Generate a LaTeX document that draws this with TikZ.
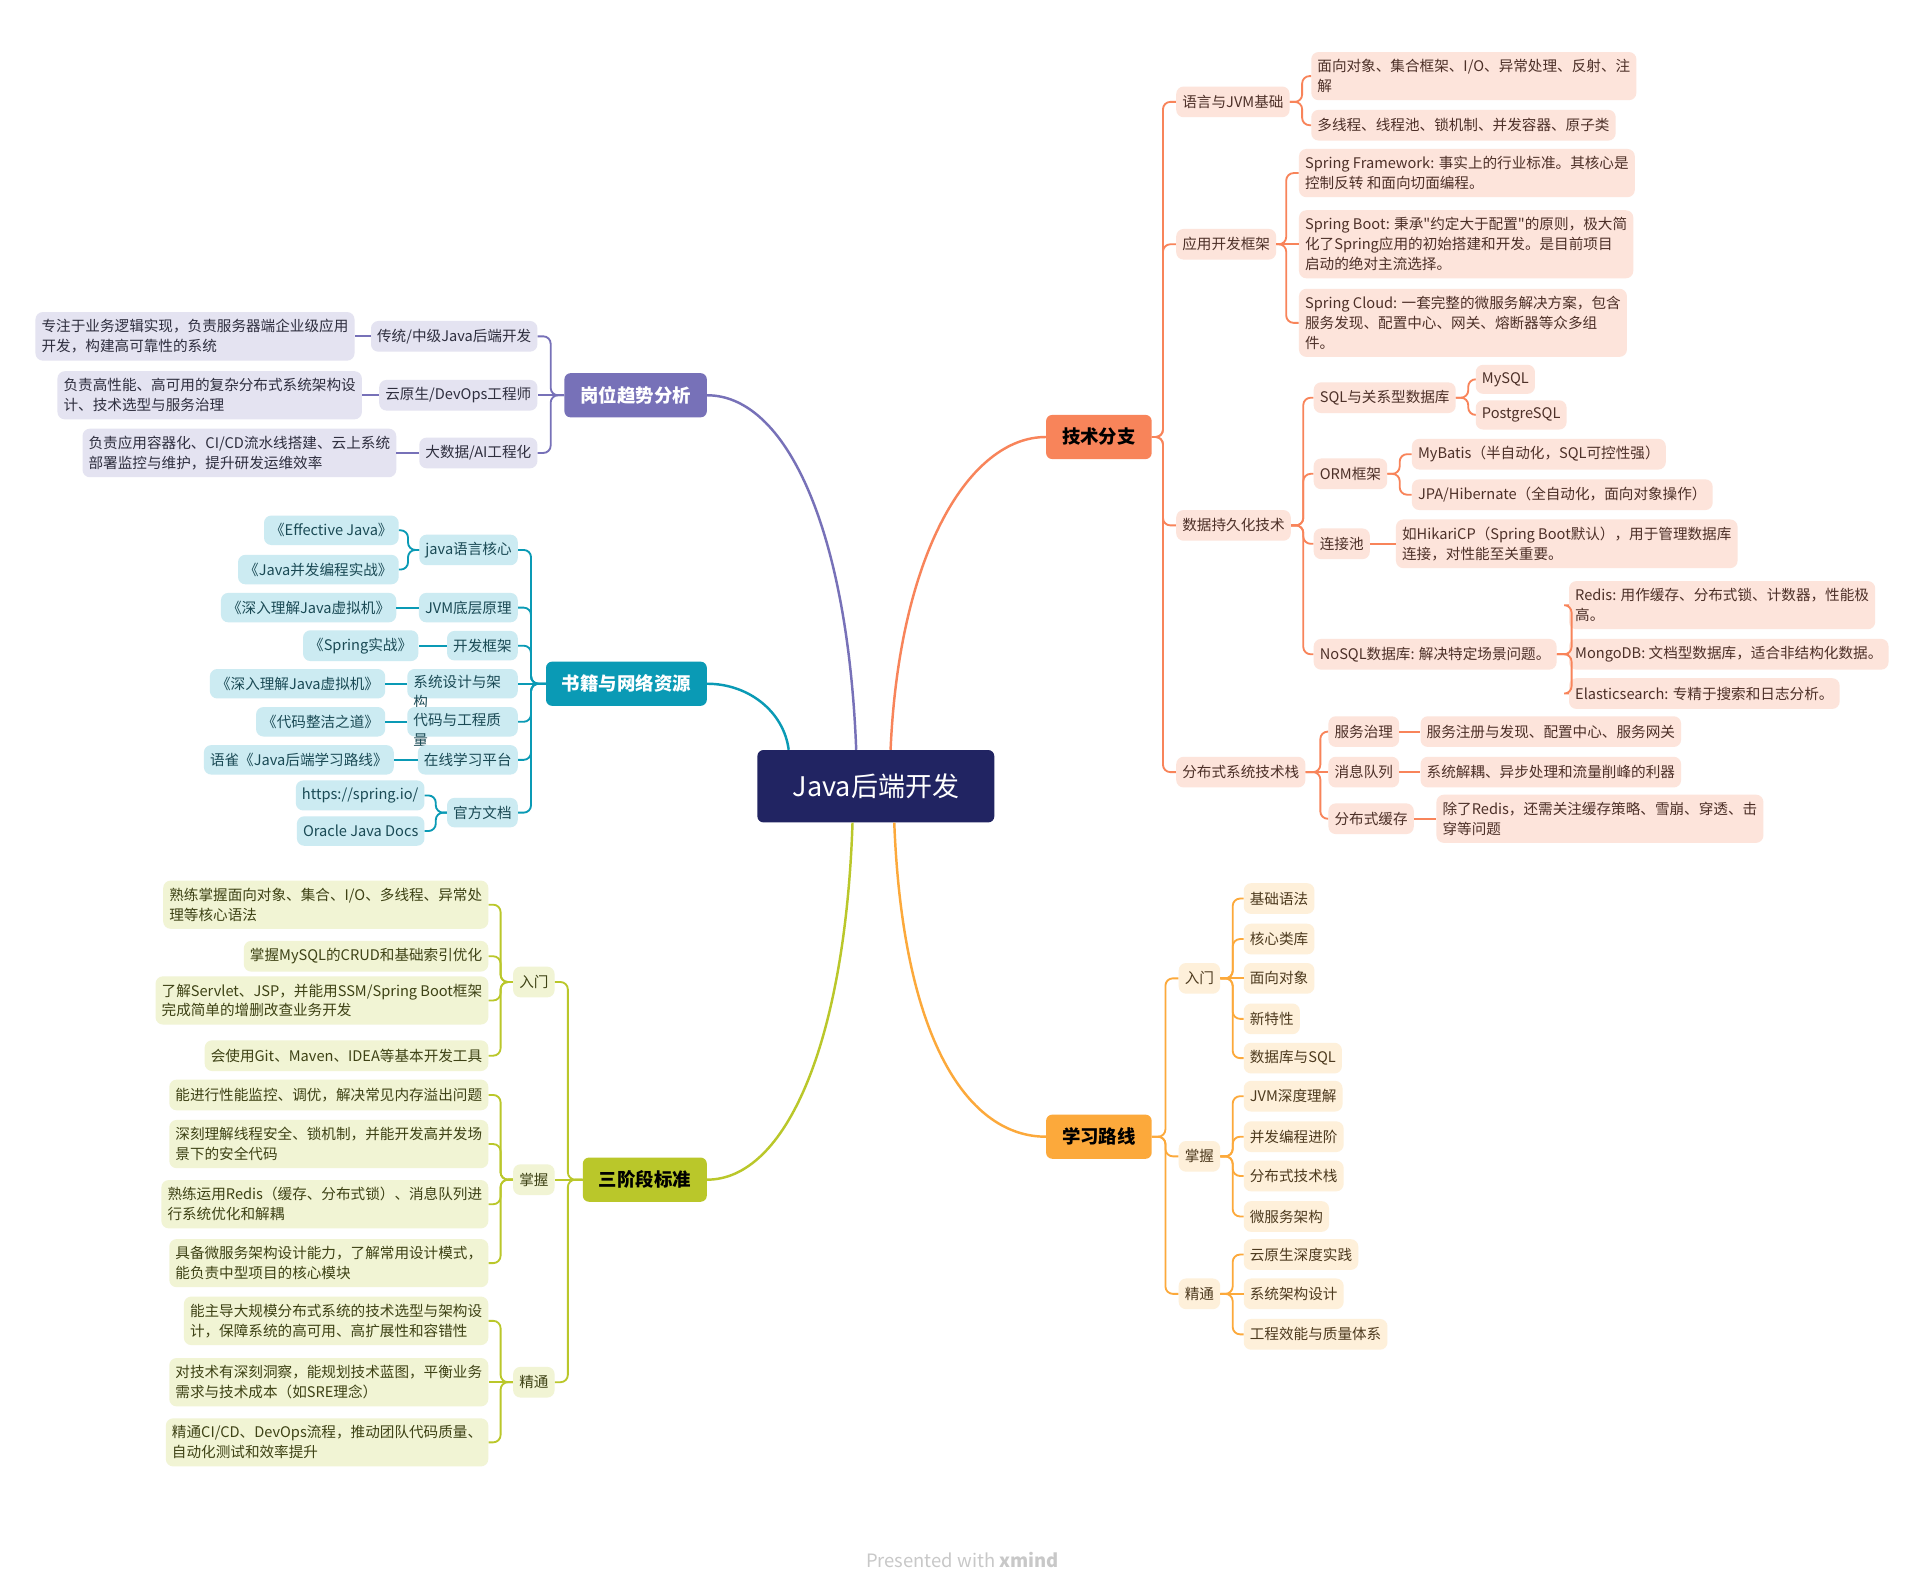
\documentclass[tikz,border=0pt]{standalone}
\usepackage{fontspec}
\setmainfont{Noto Sans CJK SC}[Ligatures=TeXOff]

\definecolor{rootc}{HTML}{212462}
\definecolor{techC}{HTML}{F8845A}
\definecolor{techL}{HTML}{FDE4DB}
\definecolor{techT}{HTML}{4D3028}
\definecolor{learnC}{HTML}{FCA93B}
\definecolor{learnL}{HTML}{FEF0DA}
\definecolor{learnT}{HTML}{4D3A1E}
\definecolor{stageC}{HTML}{BAC72A}
\definecolor{stageL}{HTML}{F1F4D4}
\definecolor{stageT}{HTML}{3E4215}
\definecolor{bookC}{HTML}{0A9AB5}
\definecolor{bookL}{HTML}{CCEBF2}
\definecolor{bookT}{HTML}{1A4A55}
\definecolor{jobC}{HTML}{7771B8}
\definecolor{jobL}{HTML}{E4E3F1}
\definecolor{jobT}{HTML}{2E2E3E}
\definecolor{footc}{HTML}{C8C8C8}

\tikzstyle{root} = [rectangle, rounded corners=5pt, fill=rootc, text=white, minimum width=193pt, minimum height=59pt, font=\fontsize{22}{26}\selectfont]
\tikzstyle{topic} = [rectangle, rounded corners=5pt, minimum height=36pt, inner xsep=13pt, text=black, font=\bfseries\fontsize{15}{18}\selectfont]
\tikzstyle{leaf} = [rectangle, rounded corners=6pt, minimum height=25pt, inner xsep=5pt, inner ysep=6pt, align=left, font=\fontsize{11.9}{16.2}\selectfont]
\tikzstyle{tech} = [leaf, fill=techL, text=techT, anchor=west]
\tikzstyle{learn} = [leaf, fill=learnL, text=learnT, anchor=west]
\tikzstyle{stage} = [leaf, fill=stageL, text=stageT, anchor=east]
\tikzstyle{book} = [leaf, fill=bookL, text=bookT, anchor=east, minimum height=24pt]
\tikzstyle{job} = [leaf, fill=jobL, text=jobT, anchor=east]
\tikzstyle{overflow} = [text width=80pt, text height=9pt, text depth=3pt]
\tikzstyle{techline} = [draw=techC, line width=1.5pt, rounded corners=6pt]
\tikzstyle{learnline} = [draw=learnC, line width=1.5pt, rounded corners=6pt]
\tikzstyle{stageline} = [draw=stageC, line width=1.5pt, rounded corners=6pt]
\tikzstyle{bookline} = [draw=bookC, line width=1.5pt, rounded corners=6pt]
\tikzstyle{jobline} = [draw=jobC, line width=1.5pt, rounded corners=6pt]
\tikzstyle{curve} = [line width=2pt]

\begin{document}
\begin{tikzpicture}[x=1pt, y=-1pt]
    \fill [white] (0,0) rectangle (1569,1294.5);
    \useasboundingbox (0,0) rectangle (1569,1294.5);

    %nodes
    \node (root) [root] at (713.5,640.5) {Java后端开发};

    \node (tech) [topic, fill=techC, anchor=west] at (852,356) {技术分支};
    \node (t1) [tech] at (958,83) {语言与JVM基础};
    \node (t11) [tech] at (1068,62) {面向对象、集合框架、I/O、异常处理、反射、注\\解};
    \node (t12) [tech] at (1068,102) {多线程、线程池、锁机制、并发容器、原子类};
    \node (t2) [tech] at (958,199) {应用开发框架};
    \node (t21) [tech] at (1058,141) {Spring Framework: 事实上的行业标准。其核心是\\控制反转 和面向切面编程。};
    \node (t22) [tech] at (1058,199) {Spring Boot: 秉承"约定大于配置"的原则，极大简\\化了Spring应用的初始搭建和开发。是目前项目\\启动的绝对主流选择。};
    \node (t23) [tech] at (1058,263) {Spring Cloud: 一套完整的微服务解决方案，包含\\服务发现、配置中心、网关、熔断器等众多组\\件。};
    \node (t3) [tech] at (958,428) {数据持久化技术};
    \node (t31) [tech] at (1070,324) {SQL与关系型数据库};
    \node (t311) [tech, minimum height=22pt] at (1202,309) {MySQL};
    \node (t312) [tech, minimum height=22pt] at (1202,338) {PostgreSQL};
    \node (t32) [tech] at (1070,386) {ORM框架};
    \node (t321) [tech] at (1150,370) {MyBatis（半自动化，SQL可控性强）};
    \node (t322) [tech] at (1150,403) {JPA/Hibernate（全自动化，面向对象操作）};
    \node (t33) [tech] at (1070,443) {连接池};
    \node (t331) [tech] at (1137,443) {如HikariCP（Spring Boot默认），用于管理数据库\\连接，对性能至关重要。};
    \node (t34) [tech] at (1070,533) {NoSQL数据库: 解决特定场景问题。};
    \node (t341) [tech] at (1278,493) {Redis: 用作缓存、分布式锁、计数器，性能极\\高。};
    \node (t342) [tech] at (1278,533) {MongoDB: 文档型数据库，适合非结构化数据。};
    \node (t343) [tech] at (1278,565) {Elasticsearch: 专精于搜索和日志分析。};
    \node (t4) [tech] at (958,629) {分布式系统技术栈};
    \node (t41) [tech] at (1082,596) {服务治理};
    \node (t411) [tech] at (1157,596) {服务注册与发现、配置中心、服务网关};
    \node (t42) [tech] at (1082,629) {消息队列};
    \node (t421) [tech] at (1157,629) {系统解耦、异步处理和流量削峰的利器};
    \node (t43) [tech] at (1082,667) {分布式缓存};
    \node (t431) [tech] at (1170,667) {除了Redis，还需关注缓存策略、雪崩、穿透、击\\穿等问题};

    \node (learn) [topic, fill=learnC, anchor=west] at (852,926) {学习路线};
    \node (l1) [learn] at (960,797) {入门};
    \node (l11) [learn] at (1013,732) {基础语法};
    \node (l12) [learn] at (1013,765) {核心类库};
    \node (l13) [learn] at (1013,797) {面向对象};
    \node (l14) [learn] at (1013,830) {新特性};
    \node (l15) [learn] at (1013,862) {数据库与SQL};
    \node (l2) [learn] at (960,942) {掌握};
    \node (l21) [learn] at (1013,893) {JVM深度理解};
    \node (l22) [learn] at (1013,926) {并发编程进阶};
    \node (l23) [learn] at (1013,958) {分布式技术栈};
    \node (l24) [learn] at (1013,991) {微服务架构};
    \node (l3) [learn] at (960,1054) {精通};
    \node (l31) [learn] at (1013,1022) {云原生深度实践};
    \node (l32) [learn] at (1013,1054) {系统架构设计};
    \node (l33) [learn] at (1013,1087) {工程效能与质量体系};

    \node (stage) [topic, fill=stageC, anchor=east] at (576,961) {三阶段标准};
    \node (s1) [stage] at (452,800) {入门};
    \node (s11) [stage] at (398,737) {熟练掌握面向对象、集合、I/O、多线程、异常处\\理等核心语法};
    \node (s12) [stage] at (398,779) {掌握MySQL的CRUD和基础索引优化};
    \node (s13) [stage] at (398,815) {了解Servlet、JSP，并能用SSM/Spring Boot框架\\完成简单的增删改查业务开发};
    \node (s14) [stage] at (398,860) {会使用Git、Maven、IDEA等基本开发工具};
    \node (s2) [stage] at (452,961) {掌握};
    \node (s21) [stage] at (398,892) {能进行性能监控、调优，解决常见内存溢出问题};
    \node (s22) [stage] at (398,932) {深刻理解线程安全、锁机制，并能开发高并发场\\景下的安全代码};
    \node (s23) [stage] at (398,981) {熟练运用Redis（缓存、分布式锁）、消息队列进\\行系统优化和解耦};
    \node (s24) [stage] at (398,1029) {具备微服务架构设计能力，了解常用设计模式，\\能负责中型项目的核心模块};
    \node (s3) [stage] at (452,1126) {精通};
    \node (s31) [stage] at (398,1076) {能主导大规模分布式系统的技术选型与架构设\\计，保障系统的高可用、高扩展性和容错性};
    \node (s32) [stage] at (398,1126) {对技术有深刻洞察，能规划技术蓝图，平衡业务\\需求与技术成本（如SRE理念）};
    \node (s33) [stage] at (398,1175) {精通CI/CD、DevOps流程，推动团队代码质量、\\自动化测试和效率提升};

    \node (book) [topic, fill=bookC, text=white, anchor=east] at (576,557) {书籍与网络资源};
    \node (b1) [book] at (422,448) {java语言核心};
    \node (b11) [book] at (325,432) {《Effective Java》};
    \node (b12) [book] at (325,464) {《Java并发编程实战》};
    \node (b2) [book] at (422,495) {JVM底层原理};
    \node (b21) [book] at (323,495) {《深入理解Java虚拟机》};
    \node (b3) [book] at (422,526) {开发框架};
    \node (b31) [book] at (341,526) {《Spring实战》};
    \node (b4) [book, overflow] at (422,557) {系统设计与架\\构};
    \node (b41) [book] at (314,557) {《深入理解Java虚拟机》};
    \node (b5) [book, overflow] at (422,588) {代码与工程质\\量};
    \node (b51) [book] at (314,588) {《代码整洁之道》};
    \node (b6) [book] at (422,619) {在线学习平台};
    \node (b61) [book] at (321,619) {语雀《Java后端学习路线》};
    \node (b7) [book] at (422,662) {官方文档};
    \node (b71) [book] at (346,648) {https://spring.io/};
    \node (b72) [book] at (346,677) {Oracle Java Docs};

    \node (job) [topic, fill=jobC, text=white, anchor=east] at (576,322) {岗位趋势分析};
    \node (j1) [job] at (438,274) {传统/中级Java后端开发};
    \node (j11) [job] at (289,274) {专注于业务逻辑实现，负责服务器端企业级应用\\开发，构建高可靠性的系统};
    \node (j2) [job] at (438,322) {云原生/DevOps工程师};
    \node (j21) [job] at (295,322) {负责高性能、高可用的复杂分布式系统架构设\\计、技术选型与服务治理};
    \node (j3) [job] at (438,369) {大数据/AI工程化};
    \node (j31) [job] at (323,369) {负责应用容器化、CI/CD流水线搭建、云上系统\\部署监控与维护，提升研发运维效率};

    \node (credit) [text=footc, font=\fontsize{15}{18}\selectfont] at (784,1271) {Presented with \textbf{xmind}};

    %arrows
    \draw [curve, draw=jobC] ([xshift=-16pt]root.north) .. controls +(-7,-181) and +(64,0) .. (job.east);
    \draw [curve, draw=techC] ([xshift=12pt]root.north) .. controls +(7,-161) and +(-62,0) .. (tech.west);
    \draw [curve, draw=bookC] ([xshift=-71pt]root.north) .. controls +(-4,-31) and +(34,0) .. (book.east);
    \draw [curve, draw=stageC] ([xshift=-19pt]root.south) .. controls +(-6,180) and +(64,0) .. (stage.east);
    \draw [curve, draw=learnC] ([xshift=15pt]root.south) .. controls +(7,180) and +(-62,0) .. (learn.west);

    \foreach \c in {t1,t2,t3,t4} \draw [techline] (tech.east) -- ++(9,0) |- (\c.west);
    \foreach \c in {t11,t12} \draw [techline] (t1.east) -- ++(10,0) |- (\c.west);
    \foreach \c in {t21,t23} \draw [techline] (t2.east) -- ++(8,0) |- (\c.west);
    \draw [techline] (t2.east) -- (t22.west);
    \foreach \c in {t31,t32,t33,t34} \draw [techline] (t3.east) -- ++(10,0) |- (\c.west);
    \foreach \c in {t311,t312} \draw [techline] (t31.east) -- ++(10,0) |- (\c.west);
    \foreach \c in {t321,t322} \draw [techline] (t32.east) -- ++(10,0) |- (\c.west);
    \draw [techline] (t33.east) -- (t331.west);
    \foreach \c in {t341,t343} \draw [techline] (t34.east) -- ++(12,0) |- (\c.west);
    \draw [techline] (t34.east) -- (t342.west);
    \foreach \c in {t41,t43} \draw [techline] (t4.east) -- ++(12,0) |- (\c.west);
    \draw [techline] (t4.east) -- (t42.west);
    \draw [techline] (t41.east) -- (t411.west);
    \draw [techline] (t42.east) -- (t421.west);
    \draw [techline] (t43.east) -- (t431.west);

    \foreach \c in {l1,l2,l3} \draw [learnline] (learn.east) -- ++(11,0) |- (\c.west);
    \foreach \c in {l11,l12,l14,l15} \draw [learnline] (l1.east) -- ++(10,0) |- (\c.west);
    \draw [learnline] (l1.east) -- (l13.west);
    \foreach \c in {l21,l22,l23,l24} \draw [learnline] (l2.east) -- ++(10,0) |- (\c.west);
    \foreach \c in {l31,l33} \draw [learnline] (l3.east) -- ++(10,0) |- (\c.west);
    \draw [learnline] (l3.east) -- (l32.west);

    \foreach \c in {s1,s3} \draw [stageline] (stage.west) -- ++(-12,0) |- (\c.east);
    \draw [stageline] (stage.west) -- (s2.east);
    \foreach \c in {s11,s12,s13,s14} \draw [stageline] (s1.west) -- ++(-10,0) |- (\c.east);
    \foreach \c in {s21,s22,s23,s24} \draw [stageline] (s2.west) -- ++(-10,0) |- (\c.east);
    \foreach \c in {s31,s33} \draw [stageline] (s3.west) -- ++(-10,0) |- (\c.east);
    \draw [stageline] (s3.west) -- (s32.east);

    \foreach \c in {b1,b2,b3,b5,b6,b7} \draw [bookline] (book.west) -- ++(-12,0) |- (\c.east);
    \draw [bookline] (book.west) -- (b4.east);
    \foreach \c in {b11,b12} \draw [bookline] (b1.west) -- ++(-9,0) |- (\c.east);
    \draw [bookline] (b2.west) -- (b21.east);
    \draw [bookline] (b3.west) -- (b31.east);
    \draw [bookline] (b4.west) -- (b41.east);
    \draw [bookline] (b5.west) -- (b51.east);
    \draw [bookline] (b6.west) -- (b61.east);
    \foreach \c in {b71,b72} \draw [bookline] (b7.west) -- ++(-9,0) |- (\c.east);

    \foreach \c in {j1,j3} \draw [jobline] (job.west) -- ++(-11,0) |- (\c.east);
    \draw [jobline] (job.west) -- (j2.east);
    \draw [jobline] (j1.west) -- (j11.east);
    \draw [jobline] (j2.west) -- (j21.east);
    \draw [jobline] (j3.west) -- (j31.east);

\end{tikzpicture}
\end{document}
